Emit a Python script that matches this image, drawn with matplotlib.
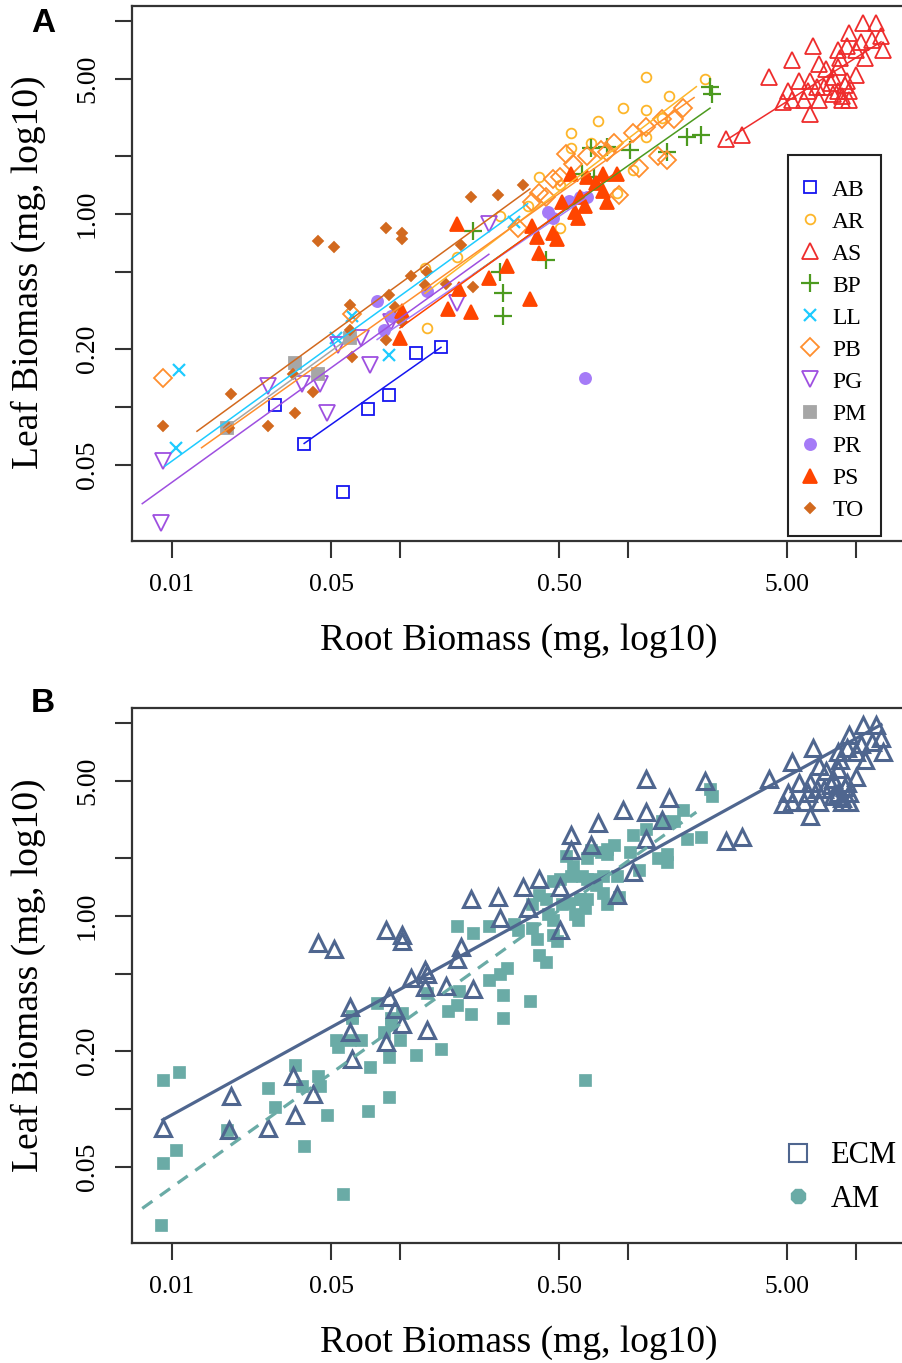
import numpy as np
import matplotlib.pyplot as plt
from matplotlib.lines import Line2D
from matplotlib.patches import Rectangle
from matplotlib.ticker import NullLocator

plt.rcParams['font.family'] = ['Liberation Serif', 'DejaVu Serif']

# values are log10(mg)
species = ["AB", "AR", "AS", "BP", "LL", "PB", "PG", "PM", "PR", "PS", "TO"]
ecm_species = ["AR", "AS", "TO"]

AB_root = [-1.55, -1.42, -1.25, -1.14, -1.05, -0.93, -0.82]
AB_leaf = [-0.99, -1.19, -1.44, -1.01, -0.94, -0.72, -0.69]

AR_root = [0.08, 0.34, 0.18, -0.02, 0.08, -0.13, -0.25, -0.25, -0.16, -0.39, -0.56,
           -0.44, -0.30, -0.88, -0.89, 0.02, 0.08, -0.05, 0.15, -0.30, -0.75]
AR_leaf = [0.71, 0.70, 0.61, 0.55, 0.54, 0.48, 0.42, 0.34, 0.37, 0.19, -0.01,
           0.04, -0.07, -0.59, -0.28, 0.23, 0.40, 0.11, 0.50, 0.15, -0.22]

AS_root = [0.43, 0.50, 0.62, 0.72, 0.81, 0.84, 0.92, 0.97, 1.03, 1.09, 1.11, 1.12, 0.96, 0.75,
           0.79, 0.68, 0.80, 0.94, 0.96, 0.89, 0.92, 0.86, 0.92, 0.97, 0.94, 0.72, 0.70, 1.02,
           1.07, 1.00, 0.93, 0.87, 0.90, 0.83, 0.77, 0.90, 0.97, 0.80, 1.00, 1.04, 0.84, 0.95]
AS_leaf = [0.39, 0.41, 0.71, 0.80, 0.87, 0.78, 0.85, 0.94, 0.99, 0.99, 0.92, 0.85, 0.87, 0.69,
           0.64, 0.58, 0.52, 0.59, 0.69, 0.68, 0.76, 0.66, 0.64, 0.64, 0.61, 0.59, 0.64, 0.89,
           0.90, 0.85, 0.81, 0.75, 0.71, 0.66, 0.59, 0.62, 0.59, 0.69, 0.72, 0.81, 0.59, 0.67]

BP_root = [-0.68, -0.56, -0.55, -0.55, -0.36, -0.16, -0.09, 0.01, 0.17, 0.26, 0.32, 0.36, 0.37, -0.15, -0.20]
BP_leaf = [-0.09, -0.30, -0.41, -0.53, -0.24, 0.34, 0.35, 0.33, 0.32, 0.40, 0.41, 0.66, 0.62, 0.19, 0.21]

LL_root = [-1.97, -1.98, -1.05, -1.21, -1.28, -0.50]
LL_leaf = [-0.81, -1.21, -0.73, -0.53, -0.64, -0.04]

PB_root = [-2.04, -1.21, -0.39, -0.33, -0.36, -0.24, -0.18, -0.12, -0.06, 0.02, 0.08, 0.15,
           0.20, 0.24, 0.13, 0.17, 0.05, -0.04, -0.09, -0.27, -0.30, -0.42, -0.48]
PB_leaf = [-0.85, -0.52, 0.11, 0.18, 0.09, 0.26, 0.30, 0.33, 0.37, 0.42, 0.45, 0.49,
           0.49, 0.55, 0.30, 0.28, 0.24, 0.10, 0.32, 0.31, 0.19, 0.06, -0.07]

PG_root = [-2.04, -2.05, -1.58, -1.43, -1.35, -1.32, -1.13, -1.27, -1.17, -1.04, -0.75, -0.61]
PG_leaf = [-1.28, -1.60, -0.89, -0.88, -0.88, -1.03, -0.78, -0.68, -0.64, -0.56, -0.46, -0.05]

PM_root = [-1.76, -1.46, -1.36, -1.22]
PM_leaf = [-1.11, -0.77, -0.83, -0.64]

PR_root = [-1.10, -1.07, -1.04, -0.88, -0.35, -0.33, -0.26, -0.21, -0.18, -0.19]
PR_leaf = [-0.45, -0.60, -0.53, -0.40, 0.01, -0.02, 0.07, 0.09, 0.09, -0.85]

PS_root = [-0.75, -0.61, -0.53, -0.74, -0.79, -0.69, -0.43, -0.42, -0.40, -0.39, -0.33, -0.31, -0.22,
           -0.23, -0.29, -0.21, -0.18, -0.14, -0.11, -0.09, -0.11, -0.25, -0.19, -0.05, -0.99, -1.00]
PS_leaf = [-0.05, -0.33, -0.27, -0.39, -0.49, -0.51, -0.44, -0.06, -0.12, -0.20, -0.10, -0.13, -0.02,
           0.01, 0.06, 0.09, 0.19, 0.16, 0.12, 0.06, 0.21, 0.21, 0.04, 0.21, -0.50, -0.64]

TO_root = [-2.04, -1.74, -1.75, -1.58, -1.36, -1.29, -1.06, -0.99, -0.99, -1.46, -1.38, -1.47, -1.22, -1.05,
           -1.02, -1.22, -1.06, -1.21, -0.69, -0.57, -0.46, -0.95, -0.88, -0.80, -0.68, -0.73, -0.99, -0.89]
TO_leaf = [-1.10, -0.93, -1.11, -1.10, -0.14, -0.17, -0.07, -0.10, -0.13, -1.03, -0.92, -0.83, -0.47, -0.42,
           -0.48, -0.60, -0.65, -0.74, 0.09, 0.10, 0.15, -0.32, -0.30, -0.36, -0.38, -0.16, -0.56, -0.37]

# per-species fitted lines (log10 leaf = icpt + slope * log10 root) and their root ranges
fit_slope = [0.83, 0.90, 0.75, 0.83, 0.855, 0.84, 0.85, 0.86, 0.80, 0.85, 0.86]
fit_icpt = [-0.01, 0.39, 0.06, 0.25, 0.43, 0.36, 0.31, 0.41, 0.23, 0.26, 0.50]
fit_lo = [-1.42, -0.89, 0.43, -0.68, -2.03, -1.87, -2.13, -1.78, -1.10, -1.00, -1.89]
fit_hi = [-0.82, 0.30, 1.11, 0.36, -0.44, 0.29, -0.61, -1.22, -0.18, -0.04, -0.43]

# mycorrhizal type fits: slope, intercept, lo, hi
ecm_fit = [0.65, 0.27, -2.04, 1.11]
am_fit = [0.845, 0.285, -2.13, 0.30]

xticks = [0.01, 0.05, 0.1, 0.5, 1, 5, 10]
xticklabels = ["0.01", "0.05", "", "0.50", "", "5.00", ""]
yticks = [0.05, 0.1, 0.2, 0.5, 1, 2, 5, 10]
yticklabels = ["0.05", "", "0.20", "", "1.00", "", "5.00", ""]

roots = {s: globals()[s + "_root"] for s in species}
leaves = {s: globals()[s + "_leaf"] for s in species}

# marker, colour, size, filled
look = {
    "AB": ("s", "#1515F0", 8, False),
    "AR": ("o", "#FDB62A", 7, False),
    "AS": ("^", "#EE2C2C", 11, False),
    "BP": ("+", "#4C9A1F", 13, False),
    "LL": ("x", "#1ECBFF", 9, False),
    "PB": ("D", "#FF8F2E", 9, False),
    "PG": ("v", "#9E4FE0", 11, False),
    "PM": ("s", "#A6A6A6", 8, True),
    "PR": ("o", "#A57BF7", 8, True),
    "PS": ("^", "#FF4500", 10, True),
    "TO": ("D", "#D2691E", 5.5, True),
}
ecm_col, am_col = "#4F668F", "#6AABA6"

W, H = 903, 1363
fig = plt.figure(figsize=(W / 100, H / 100), dpi=100)


def box(l, t, r, b):
    return [l / W, 1 - b / H, (r - l) / W, (b - t) / H]


def style(ax):
    ax.set_xscale("log")
    ax.set_yscale("log")
    ax.set_xlim(10 ** -2.175, 10 ** 1.237)
    ax.set_ylim(10 ** -1.694, 10 ** 1.078)
    ax.set_xticks(xticks)
    ax.set_xticklabels(xticklabels, fontsize=18.5)
    ax.set_yticks(yticks)
    ax.set_yticklabels(yticklabels, fontsize=20, rotation=90, va="center")
    ax.xaxis.set_minor_locator(NullLocator())
    ax.yaxis.set_minor_locator(NullLocator())
    ax.tick_params(axis="x", length=12, width=1.5, color="#333333", pad=12)
    ax.tick_params(axis="y", length=12, width=1.5, color="#333333", pad=11)
    for sp in ax.spines.values():
        sp.set_linewidth(1.6)
        sp.set_color("#333333")


def marker_kw(s):
    m, c, ms, filled = look[s]
    mew = 1.6 if m in "+x" else 1.3
    return dict(marker=m, ms=ms, mec=c, mfc=c if filled else "none", mew=mew, ls="none")


axA = fig.add_axes(box(132, 6, 910, 541))
axB = fig.add_axes(box(132, 708, 910, 1243))
style(axA)
style(axB)

# panel A
for s in species:
    axA.plot(10 ** np.array(roots[s]), 10 ** np.array(leaves[s]), **marker_kw(s))
for i, s in enumerate(species):
    xs = np.linspace(fit_lo[i], fit_hi[i], 50)
    axA.plot(10 ** xs, 10 ** (fit_icpt[i] + fit_slope[i] * xs), color=look[s][1], lw=1.1)

handles = [Line2D([], [], **marker_kw(s)) for s in species]
axA.legend(handles, species, loc="upper left", bbox_to_anchor=((798 - 132) / 778, 1 - (179 - 6) / 535),
           borderaxespad=0, fontsize=17, frameon=False, handlelength=1.0, handletextpad=0.45,
           labelspacing=0.445, borderpad=0)
axA.add_patch(Rectangle((788 / W, 1 - 536 / H), 93 / W, 381 / H, transform=fig.transFigure,
                        fill=False, lw=1.5, ec="#222222", clip_on=False, zorder=5))

# panel B
am_sp = [s for s in species if s not in ecm_species]
ecm_x = np.concatenate([roots[s] for s in ecm_species])
ecm_y = np.concatenate([leaves[s] for s in ecm_species])
am_x = np.concatenate([roots[s] for s in am_sp])
am_y = np.concatenate([leaves[s] for s in am_sp])

axB.plot(10 ** am_x, 10 ** am_y, ls="none", marker="s", ms=8, mfc=am_col, mec=am_col, mew=0.5)
axB.plot(10 ** ecm_x, 10 ** ecm_y, ls="none", marker="^", ms=11, mfc="none", mec=ecm_col, mew=2.2)

xs = np.linspace(ecm_fit[2], ecm_fit[3], 50)
axB.plot(10 ** xs, 10 ** (ecm_fit[1] + ecm_fit[0] * xs), color=ecm_col, lw=2.3)
xs = np.linspace(am_fit[2], am_fit[3], 50)
axB.plot(10 ** xs, 10 ** (am_fit[1] + am_fit[0] * xs), color=am_col, lw=2.3, dashes=(3.9, 2.9))

hB = [Line2D([], [], ls="none", marker="s", ms=13, mfc="none", mec=ecm_col, mew=1.5),
      Line2D([], [], ls="none", marker="8", ms=11, mfc=am_col, mec=am_col)]
axB.legend(hB, ["ECM", "AM"], loc="upper left", bbox_to_anchor=(0.8213, 0.213),
           borderaxespad=0, fontsize=22, frameon=False, handlelength=1.0,
           handletextpad=0.55, labelspacing=0.48, borderpad=0.4)

# labels
for yc, ly, tag, ty in [(641, 272, "A", 23), (1343, 975, "B", 703)]:
    fig.text(519 / W, 1 - yc / H, "Root Biomass (mg, log10)", ha="center", va="center", fontsize=27)
    fig.text(28 / W, 1 - ly / H, "Leaf Biomass (mg, log10)", ha="center", va="center",
             fontsize=27, rotation=90)
    fig.text(43 / W, 1 - ty / H, tag, ha="center", va="center", fontsize=24,
             fontweight="bold", family="Liberation Sans")

fig.savefig("out.png", dpi=100)
